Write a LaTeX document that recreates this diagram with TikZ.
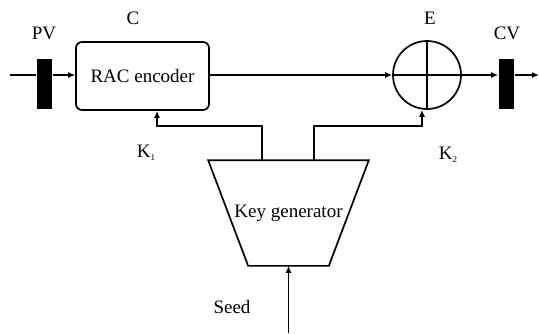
\documentclass[tikz,border=0pt]{standalone}
\usepackage{fontspec}
\setmainfont{Liberation Serif}
\usetikzlibrary{arrows.meta,positioning}
\newcommand{\ksub}[1]{\raisebox{-0.35ex}{\fontsize{9}{10}\selectfont #1}}

\begin{document}
\begin{tikzpicture}[
      x=1pt, y=1pt,
      font=\fontsize{19}{23}\selectfont,
      line width=1.7pt,
      box/.style={
        draw, rounded corners=6pt, align=center, inner sep=0pt,
        minimum width=133pt, minimum height=68pt
      },
      xorbox/.style={draw, circle, inner sep=0pt, minimum size=68pt},
      bar/.style={fill=black, inner sep=0pt, minimum width=15pt, minimum height=50pt},
      lbl/.style={inner sep=0pt},
      arrow/.style={-{Latex[length=7pt,width=6pt]}}
    ]
    \useasboundingbox (0,0) rectangle (539,333);

    \coordinate (in) at (10,258);
    \coordinate (out) at (539,258);
    \coordinate (seedin) at (288.5,0);

    \node[bar] (pvbar) at (44.5,249.5) {};
    \node[box] (enc) at (142.5,257) {RAC encoder};
    \node[xorbox] (xor) at (427,258) {};
    \node[bar] (cvbar) at (506.5,249.5) {};
    \node[lbl, minimum width=159pt, minimum height=104pt] (keygen) at (288.5,120) {Key generator};

    % trapezoid round the key generator
    \draw (keygen.north west) -- (keygen.north east)
      -- ([xshift=-40pt]keygen.south east) -- ([xshift=40pt]keygen.south west) -- cycle;
    \draw (xor.north) -- (xor.south);
    \draw (xor.west) -- (xor.east);

    \node[lbl] (pvlbl) at (44,300) {PV};
    \node[lbl] (clbl) at (133,315) {C};
    \node[lbl] (elbl) at (430,315) {E};
    \node[lbl] (cvlbl) at (507,300) {CV};
    \node[lbl] (k1lbl) at (146,180) {K\ksub{1}};
    \node[lbl] (k2lbl) at (448,178) {K\ksub{2}};
    \node[lbl] (seedlbl) at (232,26) {Seed};

    \draw (in) -- (in -| pvbar.west);
    \draw[arrow] (in -| pvbar.east) -- (enc.west |- in);
    \draw[arrow] (enc.east |- in) -- (xor.west);
    \draw[arrow] (xor.east) -- (xor.east -| cvbar.west);
    \draw[arrow] (out -| cvbar.east) -- (out);
    \draw[arrow] ([xshift=-26.5pt]keygen.north) -- ++(0,34) -| ([xshift=14.5pt]enc.south);
    \draw[arrow] ([xshift=25.5pt]keygen.north) -- ++(0,34) -| ([xshift=-5pt]xor.south);
    \draw[arrow] (seedin) -- (keygen.south);
  \end{tikzpicture}
\end{document}
